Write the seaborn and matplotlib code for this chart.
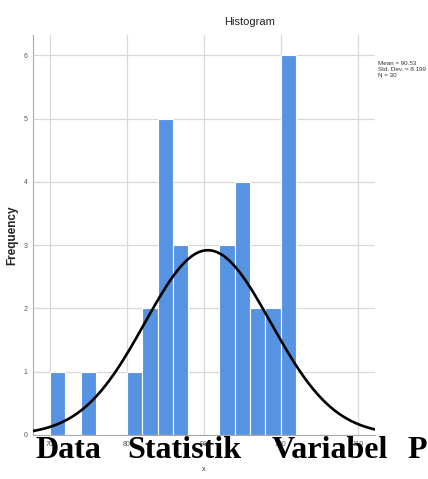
import numpy as np
import pandas as pd
import matplotlib
matplotlib.use("Agg")
import matplotlib.pyplot as plt
import seaborn as sns

# =========================================================
# DATA
# =========================================================

bin_centers = [71, 75, 81, 83, 85, 87, 93, 95, 97, 99, 101]
counts = [1, 1, 1, 2, 5, 3, 3, 4, 2, 2, 6]

mean_x = 90.53
sd_x = 8.199
n_x = 30

x_ticks = [70, 80, 90, 100, 110]
y_ticks = [0, 1, 2, 3, 4, 5, 6]

overlay_words = ["Data", "Statistik", "Variabel", "P"]

df = pd.DataFrame({"x": bin_centers, "freq": counts})

# kurva normal
xs = np.linspace(67.8, 112.25, 300)
ys = n_x * 2 * np.exp(-0.5 * ((xs - mean_x) / sd_x) ** 2) / (sd_x * np.sqrt(2 * np.pi))
df_curve = pd.DataFrame({"x": xs, "y": ys})

# =========================================================
# PLOT
# =========================================================

sns.set_style("white")
plt.rcParams['font.family'] = ['Liberation Sans', 'DejaVu Sans']

fig = plt.figure(figsize=(4.28, 4.79), dpi=100)
ax = fig.add_axes([0.0771, 0.0919, 0.799, 0.835])

sns.histplot(
    data=df,
    x="x",
    weights="freq",
    binwidth=2,
    binrange=(70, 102),
    color="#5694e3",
    alpha=1,
    edgecolor="white",
    linewidth=0.8,
    ax=ax,
    zorder=2
)

sns.lineplot(data=df_curve, x="x", y="y", color="black", linewidth=1.9, ax=ax, zorder=3)

ax.set_xlim(67.8, 112.25)
ax.set_ylim(0, 6.32)
ax.set_xticks(x_ticks)
ax.set_yticks(y_ticks)
ax.tick_params(axis="both", labelsize=5, colors="#555555", length=2, width=0.6, pad=2)
ax.grid(True, color="#d8d8d8", linewidth=0.9, zorder=0)
ax.set_axisbelow(True)

for s in ["top", "right"]:
    ax.spines[s].set_visible(False)
for s in ["left", "bottom"]:
    ax.spines[s].set_color("#aaaaaa")
    ax.spines[s].set_linewidth(0.8)

ax.set_ylabel("Frequency", fontsize=8.5, fontweight="bold", color="#222222", labelpad=4)
ax.set_xlabel("")

fig.text(0.475, 0.019, "x", ha="center", va="center", fontsize=5, color="#333333")

fig.text(0.582, 0.955, "Histogram", ha="center", va="center", fontsize=8, color="#222222")

fig.text(0.884, 0.872, "Mean = 90.53\nStd. Dev. = 8.199\nN = 30",
         ha="left", va="top", fontsize=4.5, color="#333333", linespacing=1.15)

# teks yang menimpa bagian bawah
word_x = [0.082, 0.297, 0.634, 0.952]
for w, xp in zip(overlay_words, word_x):
    fig.text(xp, 0.044, w, ha="left", va="baseline", fontsize=23,
             fontweight="bold", family=["Liberation Serif", "DejaVu Serif"], color="black")

plt.savefig("out.png", dpi=100)
